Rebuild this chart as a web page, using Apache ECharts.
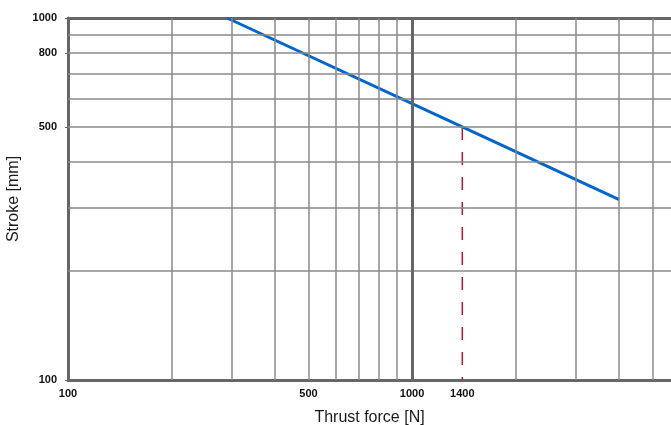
<!DOCTYPE html>
<html><head><meta charset="utf-8">
<script src="https://cdn.jsdelivr.net/npm/echarts@6/dist/echarts.min.js"></script>
<style>html,body{margin:0;padding:0;background:#fff}#c{width:671px;height:425px}</style>
</head><body><div id="c"></div>
<script>
// Data
const strokeLine = [[290, 1000], [1400, 500], [4000, 315]];
const markerLine = [[1400, 500], [1400, 100]];
const xTickLabels = [100, 500, 1000, 1400];
const yTickLabels = [100, 500, 800, 1000];
const xMinorGrid = [200, 300, 400, 500, 600, 700, 800, 900, 2000, 3000, 4000, 5000];
const xMajorGrid = [1000];
const yMinorGrid = [200, 300, 400, 500, 600, 700, 800, 900];
const xRange = [100, 5660];
const yRange = [100, 1000];

const FONT = '"Liberation Sans", Arial, sans-serif';
const AXIS_COLOR = '#666666';
const GRID_COLOR = '#8a8a8a';
const plain = v => String(Math.round(v));

const gridData = []
  .concat(xMinorGrid.map(v => ({ xAxis: v })))
  .concat(yMinorGrid.map(v => ({ yAxis: v })))
  .concat(xMajorGrid.map(v => ({ xAxis: v, lineStyle: { color: AXIS_COLOR, width: 3 } })));

const chart = echarts.init(document.getElementById('c'), null, { renderer: 'canvas' });
chart.setOption({
  animation: false,
  backgroundColor: '#ffffff',
  textStyle: { fontFamily: FONT },
  grid: { left: 68, right: 0, top: 18, bottom: 45, containLabel: false, outerBoundsMode: 'none' },
  xAxis: [{
    type: 'log', logBase: 10, min: xRange[0], max: xRange[1],
    name: 'Thrust force [N]', nameLocation: 'middle', nameGap: 30,
    nameTextStyle: { fontSize: 16, color: '#1a1a1a', fontFamily: FONT },
    axisLine: { show: true, onZero: false, lineStyle: { color: AXIS_COLOR, width: 3 } },
    axisTick: { show: false },
    axisLabel: { customValues: xTickLabels, formatter: plain, fontSize: 11, fontWeight: 'bold', color: '#111', margin: 8, fontFamily: FONT },
    splitLine: { show: false }, minorSplitLine: { show: false }
  }, {
    type: 'log', logBase: 10, min: xRange[0], max: xRange[1], position: 'top',
    axisLine: { show: true, onZero: false, lineStyle: { color: AXIS_COLOR, width: 3 } },
    axisTick: { show: false }, axisLabel: { show: false }, splitLine: { show: false }
  }],
  yAxis: {
    type: 'log', logBase: 10, min: yRange[0], max: yRange[1],
    name: 'Stroke [mm]', nameLocation: 'middle', nameGap: 43,
    nameTextStyle: { fontSize: 16, color: '#1a1a1a', fontFamily: FONT },
    axisLine: { show: true, onZero: false, lineStyle: { color: AXIS_COLOR, width: 3 } },
    axisTick: { show: true, customValues: yTickLabels, length: 3, lineStyle: { color: AXIS_COLOR, width: 1 } },
    axisLabel: { customValues: yTickLabels, formatter: plain, fontSize: 11, fontWeight: 'bold', color: '#111', margin: 11, fontFamily: FONT },
    splitLine: { show: false }
  },
  series: [{
    type: 'line', data: [], z: 1, silent: true,
    markLine: {
      silent: true, symbol: ['none', 'none'], label: { show: false },
      lineStyle: { color: GRID_COLOR, width: 1.5, type: 'solid' },
      emphasis: { disabled: true },
      data: gridData
    }
  }, {
    type: 'line', data: markerLine, z: 3, symbol: 'none', silent: true,
    lineStyle: { color: '#c8102e', width: 1.5, type: [13, 12] }
  }, {
    type: 'line', data: strokeLine, z: 4, symbol: 'none', silent: true,
    lineStyle: { color: '#0066cc', width: 3 }
  }]
});
</script></body></html>
